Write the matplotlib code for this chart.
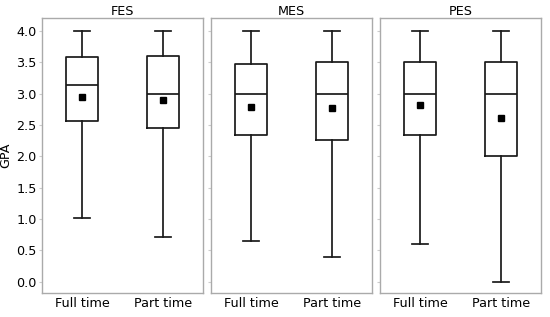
import matplotlib
matplotlib.use("Agg")
import matplotlib.pyplot as plt

groups = ["FES", "MES", "PES"]
categories = ["Full time", "Part time"]
whislo = [[1.02, 0.71], [0.65, 0.39], [0.61, 0.0]]
q1 = [[2.57, 2.45], [2.34, 2.26], [2.34, 2.01]]
med = [[3.14, 3.0], [3.0, 3.0], [3.0, 3.0]]
q3 = [[3.59, 3.6], [3.47, 3.5], [3.5, 3.5]]
whishi = [[4.0, 4.0], [4.0, 4.0], [4.0, 4.0]]
means = [[2.95, 2.90], [2.79, 2.77], [2.82, 2.61]]
yticks = [0.0, 0.5, 1.0, 1.5, 2.0, 2.5, 3.0, 3.5, 4.0]

plt.rcParams['font.family'] = ['DejaVu Sans']
fig = plt.figure(figsize=(5.5, 3.17), dpi=100)
lefts = [42, 211, 380]
width = 161
bottom = 293
top = 18
W, H = 550, 317
fs = 9.2
axes = []
for i, g in enumerate(groups):
    ax = fig.add_axes([lefts[i] / W, 1 - bottom / H, width / W, (bottom - top) / H],
                      sharey=axes[0] if axes else None)
    axes.append(ax)
    stats = []
    for j, c in enumerate(categories):
        stats.append(dict(label=c, whislo=whislo[i][j], q1=q1[i][j], med=med[i][j],
                          q3=q3[i][j], whishi=whishi[i][j], mean=means[i][j], fliers=[]))
    lp = dict(color='#1a1a1a', linewidth=1.25)
    ax.bxp(stats, positions=[1, 2], widths=0.4, showmeans=True,
           boxprops=lp, whiskerprops=lp, capprops=lp, medianprops=lp,
           meanprops=dict(marker='s', markerfacecolor='black', markeredgecolor='black', markersize=4))
    ax.set_xlim(0.5, 2.5)
    ax.set_ylim(-0.18, 4.21)
    ax.set_title(g, fontsize=fs, pad=2)
    for s in ax.spines.values():
        s.set_color('#aaaaaa')
        s.set_linewidth(1.0)
    ax.tick_params(axis='both', labelsize=fs, length=2, color='#cccccc', pad=2)
    ax.tick_params(axis='x', length=0, pad=3)
    if i == 0:
        ax.set_yticks(yticks)
        ax.set_ylabel("GPA", fontsize=fs, labelpad=3)
    else:
        ax.tick_params(axis='y', labelleft=False)

fig.savefig("out.png", dpi=100)
